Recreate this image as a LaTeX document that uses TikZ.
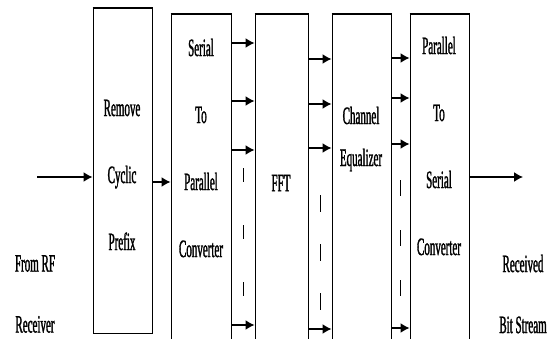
\documentclass[tikz,border=0pt]{standalone}
\usepackage{fontspec}
\newfontfamily\narrowserif[FakeStretch=0.44,FakeBold=1.2]{Liberation Serif}
\usepackage{tikz}
\usetikzlibrary{arrows.meta,positioning,calc}

\begin{document}
\begin{tikzpicture}[x=1pt,y=-1pt,
  box/.style={draw,line width=1pt,inner sep=0pt,minimum width=59pt},
  txt/.style={align=center,inner sep=0pt,font=\narrowserif\fontsize{25}{67}\selectfont},
  arr/.style={line width=1.4pt,-{Latex[length=9pt,width=10pt]}}]
\clip (0,0) rectangle (553,339);

% blocks
\node[box,minimum height=324pt] (rcp) at (122.5,171) {};
\node[box,minimum width=60pt,minimum height=345pt] (sp) at (201,187.5) {};
\node[box,minimum width=53pt,minimum height=345pt] (fft) at (281.5,187.5) {};
\node[box,minimum height=345pt] (eq) at (361.5,187.5) {};
\node[box,minimum height=345pt] (ps) at (439.5,187.5) {};
\foreach \b in {rcp,sp,fft,eq,ps}
  \draw[line width=2pt] (\b.north west)--(\b.north east);

% texts
\node[txt] (rcptxt) at (122,175) {Remove\\Cyclic\\Prefix};
\node[txt] (sptxt) at (201,148) {Serial\\To\\Parallel\\Converter};
\node[txt] (ffttxt) at (281,183) {FFT};
\node[txt,font=\narrowserif\fontsize{25}{42}\selectfont] (eqtxt) at (361,139) {Channel\\Equalizer};
\node[txt] (pstxt) at (439,146) {Parallel\\To\\Serial\\Converter};
\node[txt,font=\narrowserif\fontsize{25}{61}\selectfont] (src) at (35,294) {From RF\\Receiver};
\node[txt,font=\narrowserif\fontsize{25}{61}\selectfont] (dst) at (523,294) {Received\\Bit Stream};

% connectors
\coordinate (in) at (37,177);
\coordinate (out) at (523,177);
\draw[arr] (in) -- (in -| rcp.west);
\draw[arr] (rcp.east |- 0,182) -- (sp.west |- 0,182);
\draw[arr] (ps.east |- out) -- (out);

\foreach \y in {43,101,150,325}
  \draw[arr] (sp.east |- 0,\y) -- (fft.west |- 0,\y);
\foreach \y in {59,104,148,329}
  \draw[arr] (fft.east |- 0,\y) -- (eq.west |- 0,\y);
\foreach \y in {58,98,144,328}
  \draw[arr] (eq.east |- 0,\y) -- (ps.west |- 0,\y);

% dashed gaps
\coordinate (g1) at ($(sp.east)!0.5!(fft.west)$);
\coordinate (g2) at ($(fft.east)!0.5!(eq.west)$);
\coordinate (g3) at ($(eq.east)!0.5!(ps.west)$);
\draw[line width=1pt,dash pattern=on 14pt off 43pt] (g1 |- 0,168) -- (g1 |- 0,296);
\draw[line width=1pt,dash pattern=on 17pt off 32pt] (g2 |- 0,195) -- (g2 |- 0,310);
\draw[line width=1pt,dash pattern=on 16pt off 34pt] (g3 |- 0,180) -- (g3 |- 0,296);
\end{tikzpicture}
\end{document}
